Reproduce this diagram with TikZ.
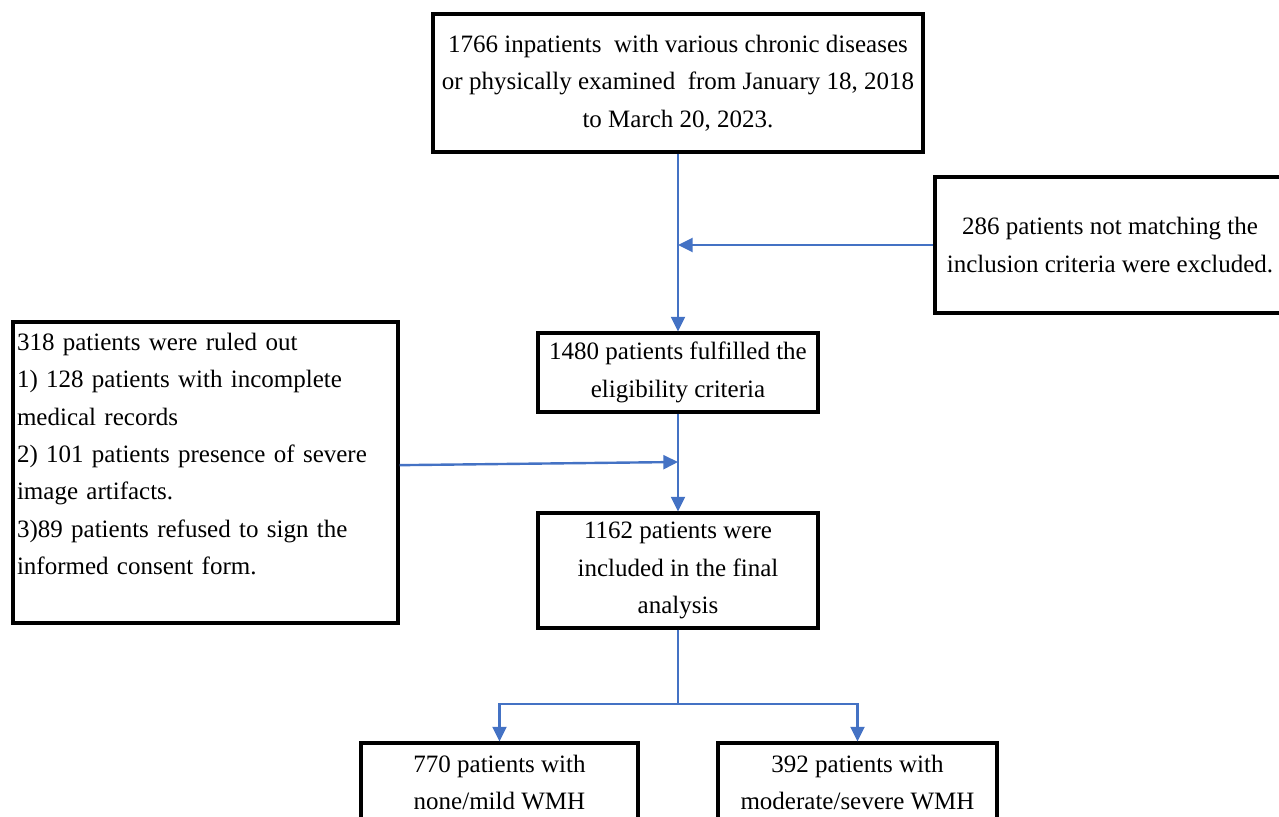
\documentclass[tikz,border=0pt]{standalone}
\usepackage{fontspec}
\setmainfont{Liberation Serif}
\usetikzlibrary{shapes,arrows.meta,positioning}
\definecolor{flowblue}{HTML}{4472C4}

\begin{document}
\begin{tikzpicture}[x=0.75pt,y=-0.75pt,>={Triangle[length=11pt,width=10.5pt]},
  box/.style={draw=black,line width=2.3pt,align=center,inner sep=0pt,
    font=\fontsize{18.75}{28}\selectfont},
  flow/.style={draw=flowblue,line width=1.8pt}]
  % Page
  \useasboundingbox (0,0) rectangle (1279,817);

  % Boxes
  \node[box,minimum width=367.5pt,minimum height=103.5pt] (start) at (678,83)
    {1766 inpatients\ \ with various chronic diseases\\or physically examined\ \ from January 18, 2018\\to March 20, 2023.};
  \node[box,minimum width=262.5pt,minimum height=102pt] (excl1) at (1110,245)
    {286 patients not matching the\\inclusion criteria were excluded.};
  \node[box,minimum width=210pt,minimum height=59.25pt] (elig) at (678,372.5)
    {1480 patients fulfilled the\\eligibility criteria};
  \node[box,align=left,text width=282.75pt,inner xsep=3pt,minimum height=225.75pt] (excl2) at (205.5,472.5)
    {318 patients were ruled out\\1) 128 patients with incomplete\\medical records\\2) 101 patients presence of severe\\image artifacts.\\3)89 patients refused to sign the\\informed consent form.\\\mbox{}};
  \node[box,minimum width=210pt,minimum height=86.25pt] (final) at (678,570.5)
    {1162 patients were\\included in the final\\analysis};
  \node[box,minimum width=207.75pt,minimum height=59.25pt] (mild) at (499.5,782.5)
    {770 patients with\\none/mild WMH};
  \node[box,minimum width=209.25pt,minimum height=59.25pt] (severe) at (857.5,782.5)
    {392 patients with\\moderate/severe WMH};

  % Junctions
  \coordinate (j1) at (start.south |- excl1.west);
  \coordinate (j2) at (678,462);
  \coordinate (split) at (678,704);

  % Connectors
  \draw[flow,->] (start.south) -- (elig.north);
  \draw[flow,->] (excl1.west) -- (j1);
  \draw[flow,->] (elig.south) -- (final.north);
  \draw[flow,->] ([yshift=5.5pt]excl2.east) -- (j2);
  \draw[flow] (final.south) -- (split);
  \draw[flow,->] (split) -| (mild.north);
  \draw[flow,->] (split) -| (severe.north);
\end{tikzpicture}
\end{document}
